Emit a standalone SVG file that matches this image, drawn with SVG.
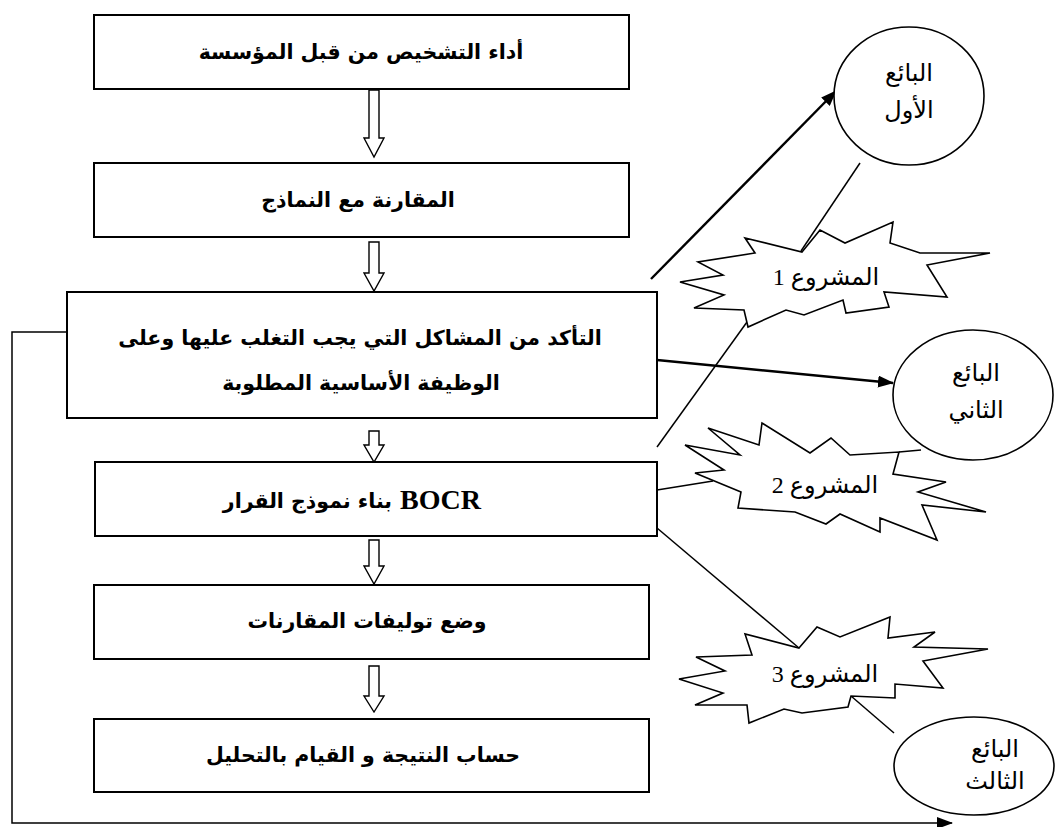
<svg xmlns="http://www.w3.org/2000/svg" width="1062" height="827" viewBox="0 0 1062 827">
  <style>
    .box { fill: #fff; stroke: #000; stroke-width: 2; }
    .hollow { fill: #fff; stroke: #000; stroke-width: 1.4; stroke-linejoin: miter; }
    .oval { fill: #fff; stroke: #000; stroke-width: 1.6; }
    .burst { fill: #fff; stroke: #000; stroke-width: 1.6; stroke-linejoin: miter; }
    .link { fill: none; stroke: #000; stroke-width: 1.5; }
    .link-bold { fill: none; stroke: #000; stroke-width: 2.4; }
    .step { font-family: "DejaVu Sans", sans-serif; font-weight: bold; font-size: 20.5px; text-anchor: middle; fill: #000; }
    .latin { font-family: "Liberation Serif", serif; font-weight: bold; font-size: 28px; text-anchor: start; fill: #000; }
    .tag { font-family: "Liberation Serif", "DejaVu Sans", sans-serif; font-size: 24px; text-anchor: middle; fill: #000; }
  </style>
  <defs>
    <marker id="head" markerUnits="userSpaceOnUse" markerWidth="16" markerHeight="12" refX="15" refY="6" orient="auto">
      <path d="M0,0 L16,6 L0,12 Z" fill="#000"/>
    </marker>
  </defs>

  <!-- connectors -->
  <g id="connectors">
    <!-- feedback loop from the problems step down to the third vendor -->
    <polyline class="link" points="67,332 12,332 12,823 952,823" marker-end="url(#head)"/>
    <line class="link-bold" x1="651" y1="279" x2="836" y2="91" marker-end="url(#head)"/>
    <line class="link-bold" x1="657" y1="360" x2="893" y2="383" marker-end="url(#head)"/>
    <line class="link" x1="860" y1="163" x2="801" y2="251"/>
    <line class="link" x1="657" y1="447" x2="747" y2="322"/>
    <line class="link" x1="657" y1="490" x2="713" y2="481"/>
    <line class="link" x1="657" y1="528" x2="799" y2="648"/>
    <line class="link" x1="899" y1="452" x2="921" y2="450"/>
    <line class="link" x1="851" y1="696" x2="894" y2="733"/>
    <!-- hollow flow arrows between steps -->
    <path class="hollow" d="M369,90 L379,90 L379,138 L384,138 L374,157 L364,138 L369,138 Z"/>
    <path class="hollow" d="M369,242 L379,242 L379,273 L384,273 L374,291 L364,273 L369,273 Z"/>
    <path class="hollow" d="M369,431 L379,431 L379,445 L384,445 L374,462 L364,445 L369,445 Z"/>
    <path class="hollow" d="M369,540 L379,540 L379,566 L384,566 L374,584 L364,566 L369,566 Z"/>
    <path class="hollow" d="M369,666 L379,666 L379,696 L384,696 L374,712 L364,696 L369,696 Z"/>
  </g>

  <!-- process steps -->
  <g id="step-diagnosis">
    <rect class="box" x="94" y="15" width="535" height="74"/>
    <text class="step" x="361" y="59">أداء التشخيص من قبل المؤسسة</text>
  </g>
  <g id="step-comparison">
    <rect class="box" x="94" y="163" width="535" height="74"/>
    <text class="step" x="358" y="207">المقارنة مع النماذج</text>
  </g>
  <g id="step-problems">
    <rect class="box" x="67" y="292" width="590" height="126"/>
    <text class="step" x="360" y="345">التأكد من المشاكل التي يجب التغلب عليها وعلى</text>
    <text class="step" x="361" y="390">الوظيفة الأساسية المطلوبة</text>
  </g>
  <g id="step-bocr">
    <rect class="box" x="95" y="462" width="562" height="74"/>
    <text class="step" x="392" y="508" style="text-anchor:end">بناء نموذج القرار</text>
    <text class="latin" x="400" y="509">BOCR</text>
  </g>
  <g id="step-combinations">
    <rect class="box" x="94" y="585" width="555" height="74"/>
    <text class="step" x="367" y="628">وضع توليفات المقارنات</text>
  </g>
  <g id="step-result">
    <rect class="box" x="94" y="719" width="555" height="73"/>
    <text class="step" x="363" y="762">حساب النتيجة و القيام بالتحليل</text>
  </g>

  <!-- vendors -->
  <g id="vendor-1">
    <ellipse class="oval" cx="909" cy="96" rx="75" ry="69"/>
    <text class="tag" x="909" y="81">البائع</text>
    <text class="tag" x="909" y="118">الأول</text>
  </g>
  <g id="vendor-2">
    <ellipse class="oval" cx="973" cy="395" rx="80" ry="65"/>
    <text class="tag" x="976" y="381">البائع</text>
    <text class="tag" x="976" y="418">الثاني</text>
  </g>
  <g id="vendor-3">
    <ellipse class="oval" cx="974" cy="766" rx="80" ry="49"/>
    <text class="tag" x="995" y="757">البائع</text>
    <text class="tag" x="995" y="789">الثالث</text>
  </g>

  <!-- projects -->
  <g id="project-1">
    <polygon class="burst" points="802,252 820,230 845,243 893,222 890,243 920,253 990,253 927,265 947,297 884,292 889,307 846,313 843,300 804,315 786,310 748,327 744,310 694,308 724,295 680,282 723,275 698,262 755,253 745,238"/>
    <text class="tag" x="826" y="285">المشروع 1</text>
  </g>
  <g id="project-2">
    <polygon class="burst" points="708,428 759,445 762,423 810,453 831,438 850,455 899,452 893,474 946,482 918,492 986,512 922,505 937,540 880,518 880,532 840,514 826,524 795,512 738,508 741,492 695,473 724,470 685,445 740,455"/>
    <text class="tag" x="825" y="493">المشروع 2</text>
  </g>
  <g id="project-3">
    <polygon class="burst" points="799,648 817,627 840,637 890,617 888,638 935,632 914,647 988,649 923,661 943,688 895,684 895,698 851,696 848,707 802,713 784,709 749,723 747,705 695,705 723,693 679,679 725,671 696,657 752,655 745,634"/>
    <text class="tag" x="825" y="682">المشروع 3</text>
  </g>
</svg>
